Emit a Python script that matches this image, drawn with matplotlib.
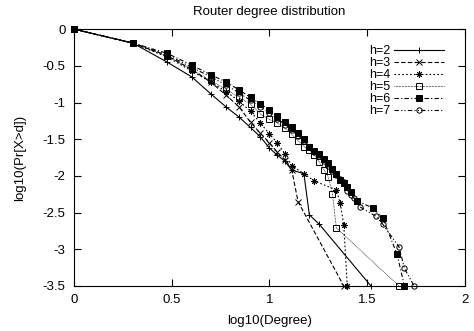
import numpy as np
import matplotlib
matplotlib.use("Agg")
import matplotlib.pyplot as plt

plt.rcParams['font.family'] = ['Liberation Sans', 'DejaVu Sans']
plt.rcParams['font.size'] = 9.5

# log10(degree) values, one list per curve
x2 = [0, 0.301, 0.477, 0.602, 0.699, 0.778, 0.845, 0.903, 0.954, 1.0, 1.041, 1.079, 1.114, 1.176, 1.204, 1.255, 1.519]
y2 = [0, -0.19, -0.45, -0.65, -0.88, -1.06, -1.2, -1.34, -1.47, -1.62, -1.72, -1.8, -1.92, -1.97, -2.53, -2.66, -3.5]

x3 = [0, 0.301, 0.477, 0.602, 0.699, 0.778, 0.845, 0.903, 0.954, 1.0, 1.041, 1.079, 1.114, 1.146, 1.38]
y3 = [0, -0.19, -0.36, -0.55, -0.72, -0.9, -1.06, -1.27, -1.42, -1.55, -1.68, -1.78, -1.92, -2.35, -3.5]

x4 = [0, 0.301, 0.477, 0.602, 0.699, 0.778, 0.845, 0.903, 0.954, 1.0, 1.041, 1.079, 1.114, 1.176, 1.23, 1.342, 1.362, 1.38, 1.398]
y4 = [0, -0.19, -0.38, -0.57, -0.72, -0.85, -0.98, -1.12, -1.28, -1.43, -1.55, -1.7, -1.86, -1.97, -2.07, -2.19, -2.37, -2.67, -3.5]

x5 = [0, 0.301, 0.477, 0.602, 0.699, 0.778, 0.845, 0.903, 0.954, 1.0, 1.041, 1.079, 1.114, 1.146, 1.176, 1.204, 1.23, 1.255, 1.279, 1.301, 1.322, 1.342, 1.663]
y5 = [0, -0.19, -0.37, -0.55, -0.7, -0.82, -0.93, -1.02, -1.16, -1.23, -1.28, -1.35, -1.43, -1.52, -1.6, -1.65, -1.72, -1.81, -1.92, -2.02, -2.24, -2.71, -3.5]

x6 = [0, 0.301, 0.477, 0.602, 0.699, 0.778, 0.845, 0.903, 0.954, 1.0, 1.041, 1.079, 1.114, 1.146, 1.176, 1.204, 1.23, 1.255, 1.279, 1.301, 1.322, 1.342, 1.362, 1.38, 1.398, 1.415, 1.447, 1.531, 1.58, 1.653, 1.69]
y6 = [0, -0.19, -0.33, -0.49, -0.62, -0.72, -0.83, -0.93, -1.02, -1.1, -1.18, -1.26, -1.34, -1.42, -1.5, -1.6, -1.66, -1.7, -1.77, -1.83, -1.91, -1.98, -2.05, -2.1, -2.15, -2.22, -2.34, -2.44, -2.58, -3.07, -3.5]

x7 = [0, 0.301, 0.477, 0.602, 0.699, 0.778, 0.845, 0.903, 0.954, 1.0, 1.041, 1.079, 1.114, 1.146, 1.176, 1.204, 1.23, 1.255, 1.279, 1.301, 1.322, 1.342, 1.362, 1.38, 1.398, 1.415, 1.431, 1.462, 1.544, 1.58, 1.663, 1.69, 1.74]
y7 = [0, -0.19, -0.35, -0.52, -0.65, -0.76, -0.87, -0.97, -1.06, -1.14, -1.22, -1.3, -1.38, -1.45, -1.53, -1.6, -1.67, -1.73, -1.8, -1.87, -1.93, -1.99, -2.04, -2.08, -2.2, -2.26, -2.3, -2.42, -2.55, -2.66, -2.97, -3.26, -3.5]

fig = plt.figure(figsize=(4.74, 3.31), dpi=100)
ax = fig.add_axes([0.156, 0.136, 0.825, 0.776])

lw = 0.8
ax.plot(x2, y2, color='k', lw=lw, ls='-', marker='+', ms=4.5, mew=0.7, label='h=2', clip_on=False)
ax.plot(x3, y3, color='k', lw=lw, ls=(0, (4, 2)), marker='x', ms=4, mew=0.7, label='h=3', clip_on=False)
ax.plot(x4, y4, color='k', lw=lw, ls=(0, (1.5, 2)), marker=(8, 2, 0), ms=4.5, mew=0.7, label='h=4', clip_on=False)
ax.plot(x5, y5, color='k', lw=0.6, ls=(0, (0.8, 1)), marker='s', ms=3.8, mfc='none', mew=0.7, label='h=5', clip_on=False)
ax.plot(x6, y6, color='k', lw=lw, ls=(0, (4, 2, 1, 2)), marker='s', ms=4, mfc='k', mew=0.7, label='h=6', clip_on=False)
ax.plot(x7, y7, color='k', lw=lw, ls=(0, (4, 2, 1, 2, 1, 2)), marker='o', ms=3.8, mfc='none', mew=0.7, label='h=7', clip_on=False)

ax.set_xlim(0, 2)
ax.set_ylim(-3.5, 0)
ax.set_xticks([0, 0.5, 1, 1.5, 2])
ax.set_xticklabels(['0', '0.5', '1', '1.5', '2'])
ax.set_yticks([0, -0.5, -1, -1.5, -2, -2.5, -3, -3.5])
ax.set_yticklabels(['0', '-0.5', '-1', '-1.5', '-2', '-2.5', '-3', '-3.5'])
ax.tick_params(direction='in', top=True, right=True, length=5, width=0.8, labelsize=9.5, pad=6)
for s in ax.spines.values():
    s.set_linewidth(0.8)

ax.set_title('Router degree distribution', fontsize=9.5, pad=10)
ax.set_xlabel('log10(Degree)', fontsize=9.5, labelpad=6)
ax.set_ylabel('log10(Pr[X>d])', fontsize=9.5, labelpad=12)

ax.legend(loc='upper right', frameon=False, markerfirst=False, numpoints=1,
          handlelength=4.0, handletextpad=0.3, labelspacing=0.0,
          borderaxespad=1.0, fontsize=9, bbox_to_anchor=(0.992, 1.005))

fig.savefig('out.png', dpi=100)
